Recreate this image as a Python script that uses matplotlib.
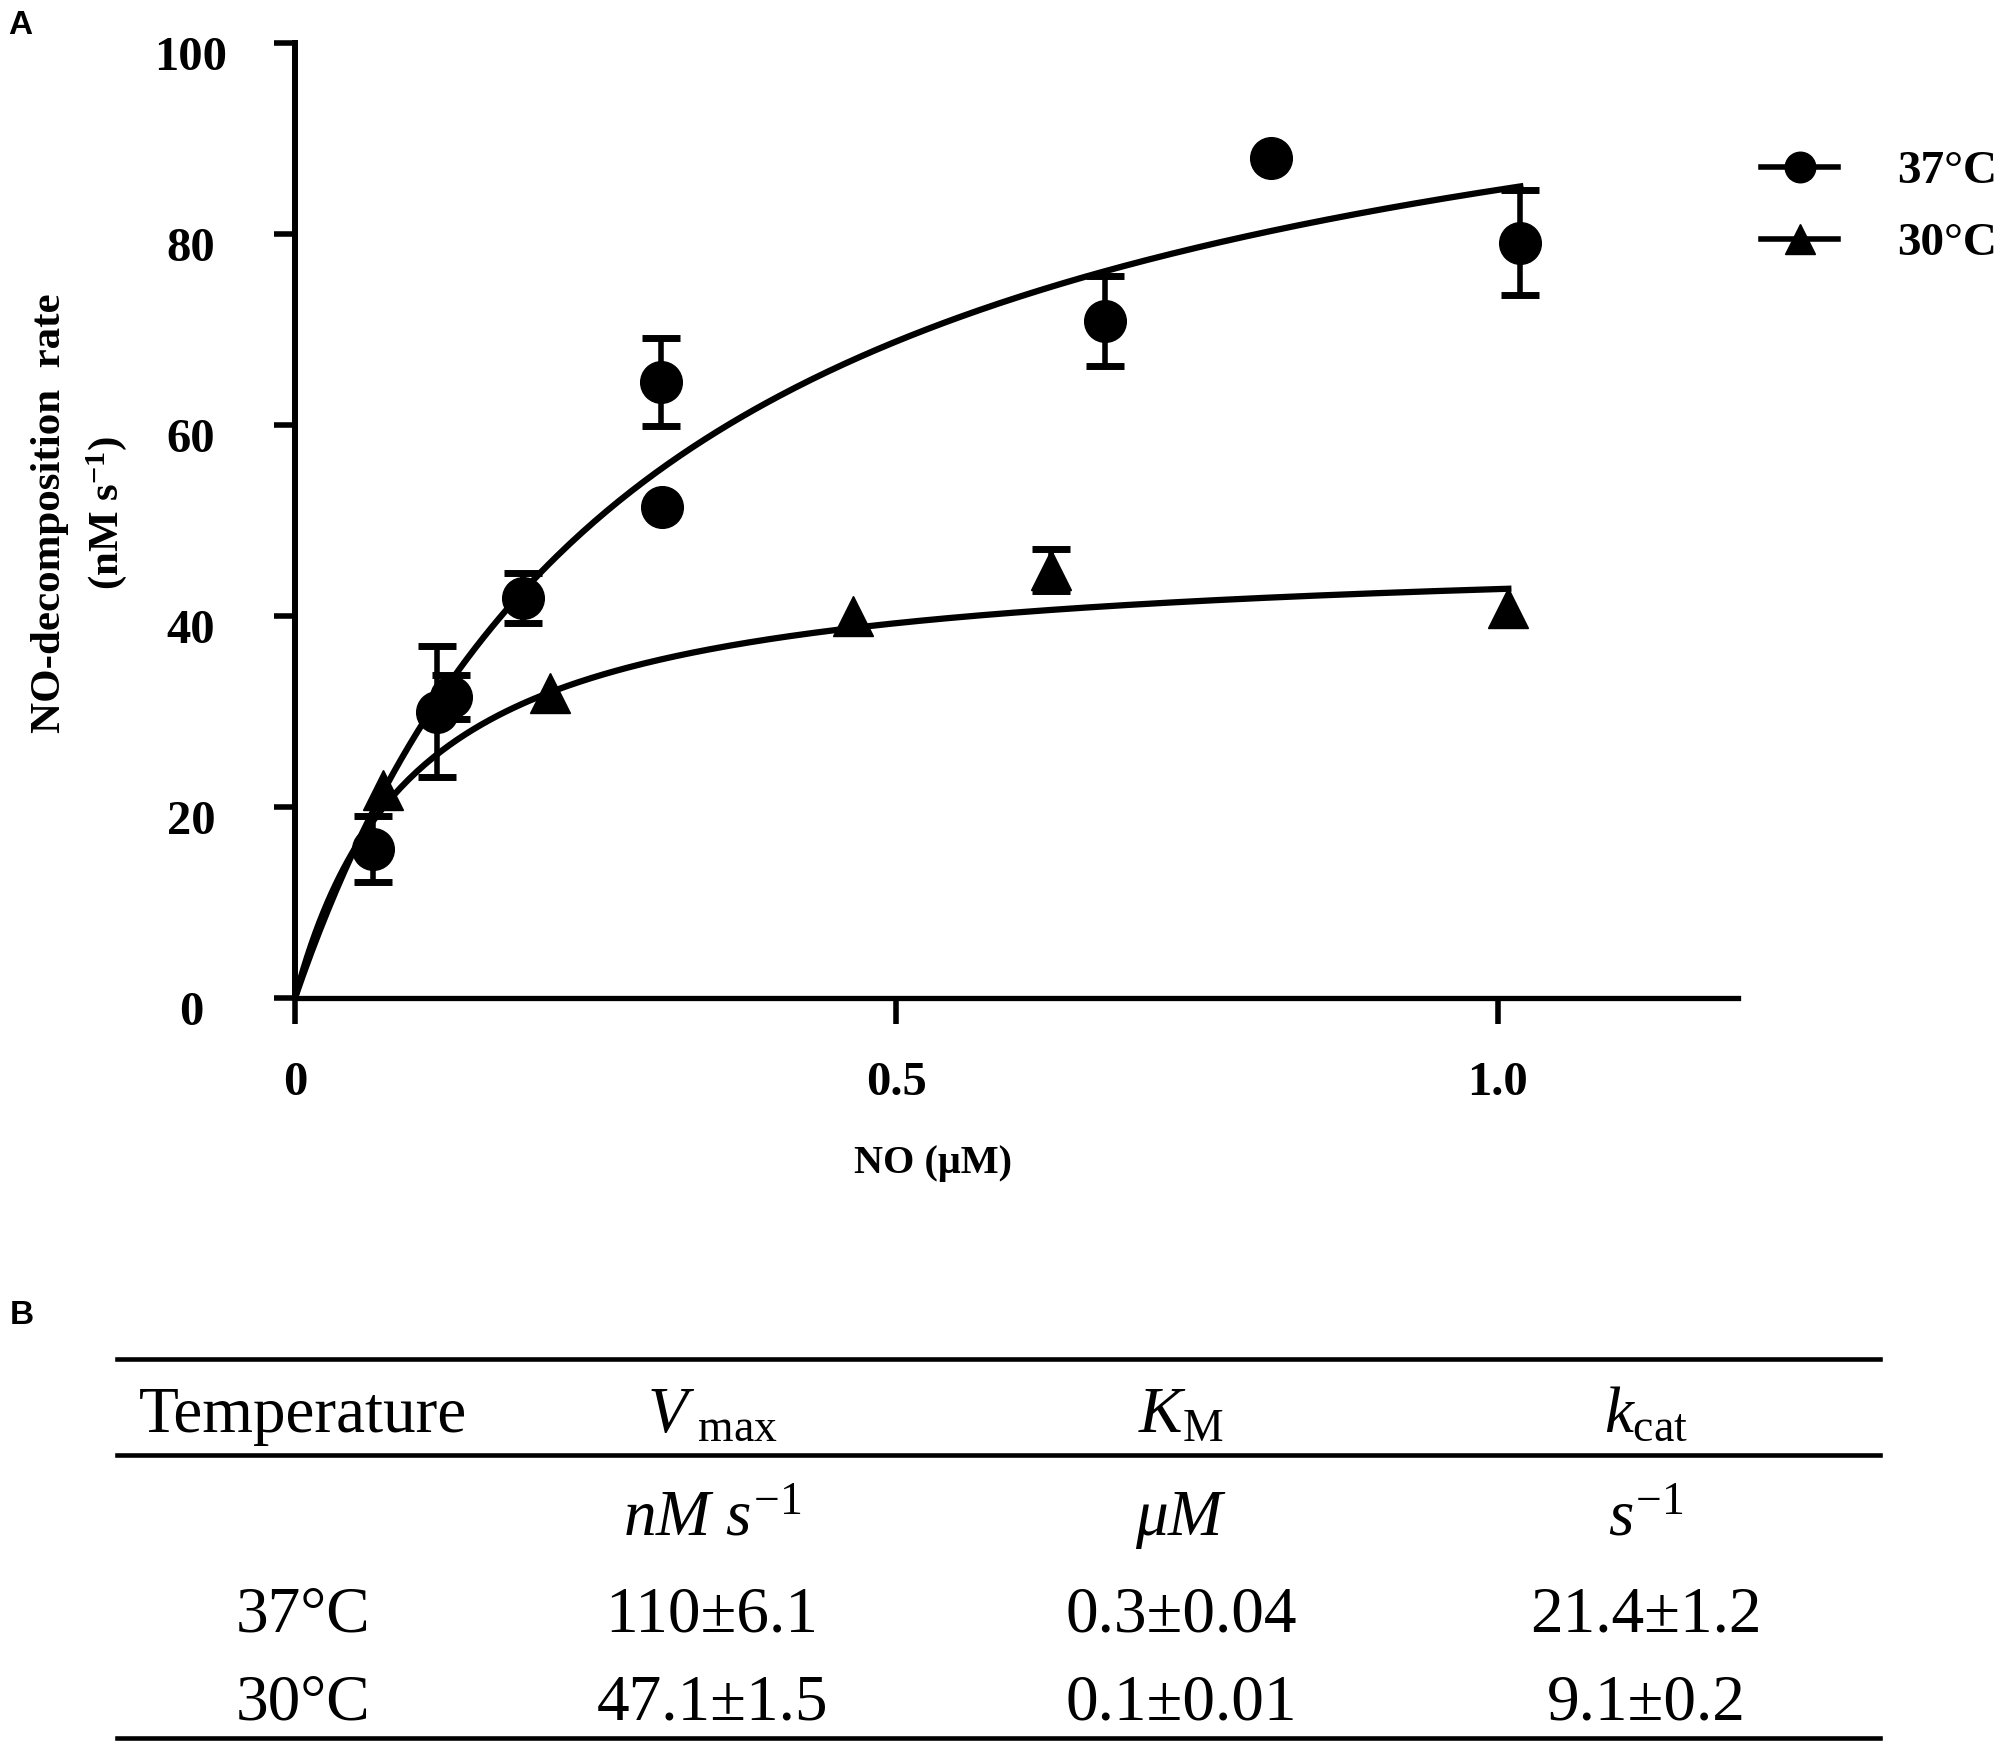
import matplotlib
matplotlib.use("Agg")
import matplotlib.pyplot as plt
import numpy as np
from matplotlib.lines import Line2D
from matplotlib.font_manager import FontProperties
from matplotlib.transforms import ScaledTranslation

plt.rcParams["font.family"] = "Liberation Serif"
plt.rcParams["xtick.labelsize"] = 35
plt.rcParams["ytick.labelsize"] = 35
plt.rcParams["mathtext.fontset"] = "custom"
plt.rcParams["mathtext.rm"] = "Liberation Serif"
plt.rcParams["mathtext.it"] = "Liberation Serif:italic"
plt.rcParams["mathtext.bf"] = "Liberation Serif:bold"

# panel A: measured rates (nM/s) vs NO (uM)
x37 = [0.065, 0.118, 0.130, 0.190, 0.304, 0.305, 0.674, 0.812, 1.019]
y37 = [15.6, 30.0, 31.5, 41.9, 64.5, 51.4, 70.9, 88.0, 79.1]
e37 = [3.5, 6.9, 2.3, 2.6, 4.6, 0.0, 4.7, 0.0, 5.5]

x30 = [0.073, 0.212, 0.464, 0.629, 1.009]
y30 = [21.8, 31.9, 40.0, 44.8, 40.8]
e30 = [0.0, 0.0, 0.0, 2.2, 0.0]

# panel B: fitted kinetic parameters
temps = ["37°C", "30°C"]
vmax_val = [110, 47.1]
vmax_err = [6.1, 1.5]
km_val = [0.3, 0.1]
km_err = [0.04, 0.01]
kcat_val = [21.4, 9.1]
kcat_err = [1.2, 0.2]

W, H = 2000, 1744


def fx(px):
    return px / W


def fy(py):
    return 1 - py / H


fig = plt.figure(figsize=(W / 100, H / 100), dpi=100)
ax = fig.add_axes([fx(295), fy(998), (1738 - 295) / W, (998 - 43) / H])

series = [
    (x37, y37, e37, "o", 30, vmax_val[0], km_val[0]),
    (x30, y30, e30, "^", 29, vmax_val[1], km_val[1]),
]
for xs, ys, es, mk, ms, vm, km in series:
    xs, ys, es = np.array(xs), np.array(ys), np.array(es)
    xf = np.linspace(0, xs.max(), 300)
    ax.plot(xf, vm * xf / (km + xf), color="k", lw=4.5, zorder=2)
    m = es > 0
    ax.errorbar(xs[m], ys[m], yerr=es[m], fmt="none", ecolor="k",
                elinewidth=4, capsize=14, capthick=5, zorder=3)
    ax.plot(xs, ys, ls="none", marker=mk, ms=ms, color="k", zorder=4)

ax.set_xlim(0, 1.2)
ax.set_ylim(0, 100)
ax.spines["top"].set_visible(False)
ax.spines["right"].set_visible(False)
ax.spines["left"].set_linewidth(4.3)
ax.spines["bottom"].set_linewidth(3.8)

ax.set_xticks([0, 0.5, 1.0], ["0", "0.5", "1.0"])
ax.set_yticks(np.arange(0, 101, 20))
ax.tick_params(axis="x", direction="out", length=19, width=4, pad=26)
ax.tick_params(axis="y", direction="out", length=15, width=4, pad=60)
for lab in ax.get_xticklabels():
    lab.set_fontweight("bold")
for lab in ax.get_yticklabels():
    lab.set_fontweight("bold")
    lab.set_ha("center")
    lab.set_transform(lab.get_transform() + ScaledTranslation(0, -0.1, fig.dpi_scale_trans))

ax.set_xlabel("NO (μM)", fontsize=29, fontweight="bold")
ax.xaxis.set_label_coords((933 - 295) / 1443, (998 - 1163) / 955)
ax.xaxis.label.set_va("center")
ax.set_ylabel("NO-decomposition  rate\n(nM s$^{\\mathbf{-1}}$)", fontsize=31,
              fontweight="bold", linespacing=1.45)
ax.yaxis.set_label_coords((80 - 295) / 1443, (998 - 513) / 955)
ax.yaxis.label.set_va("center")

handles = [
    Line2D([], [], color="k", lw=4, marker="o", ms=22),
    Line2D([], [], color="k", lw=4, marker="^", ms=22),
]
fig.legend(handles, temps, loc="upper left", bbox_to_anchor=(fx(1761), fy(150)),
           frameon=False, borderpad=0, borderaxespad=0, handlelength=1.64,
           handletextpad=1.25, labelspacing=0.62,
           prop=FontProperties(family="Liberation Serif", weight="bold", size=34))

# panel labels
fig.text(fx(8), fy(10), "A", family="Liberation Sans", weight="bold", fontsize=24,
         ha="left", va="top")
fig.text(fx(10), fy(1300), "B", family="Liberation Sans", weight="bold", fontsize=24,
         ha="left", va="top")

# panel B table
for ry in [1359, 1455, 1738]:
    fig.add_artist(Line2D([fx(117), fx(1880)], [fy(ry), fy(ry)], color="k", lw=3.3,
                          transform=fig.transFigure))

col_x = [303, 712, 1181, 1646]
tfont = dict(fontsize=47, ha="center", va="baseline")
header = ["Temperature", "$V_{\\ \\mathrm{max}}$", "$K_{\\mathrm{M}}$",
          "$k_{\\mathrm{cat}}$"]
units = ["", "$\\mathit{nM\\ s}^{\\mathit{-1}}$", "$\\mathit{\\mu M}$",
         "$\\mathit{s}^{\\mathit{-1}}$"]
for cx, t in zip(col_x, header):
    fig.text(fx(cx), fy(1432), t, **tfont)
for cx, t in zip(col_x, units):
    if t:
        fig.text(fx(cx), fy(1535), t, **tfont)
for i, ry in enumerate([1631, 1719]):
    row = [
        temps[i],
        f"{vmax_val[i]:g}±{vmax_err[i]:g}",
        f"{km_val[i]:g}±{km_err[i]:g}",
        f"{kcat_val[i]:g}±{kcat_err[i]:g}",
    ]
    for cx, t in zip(col_x, row):
        fig.text(fx(cx), fy(ry), t, **tfont)

fig.savefig("out.png", dpi=100)
